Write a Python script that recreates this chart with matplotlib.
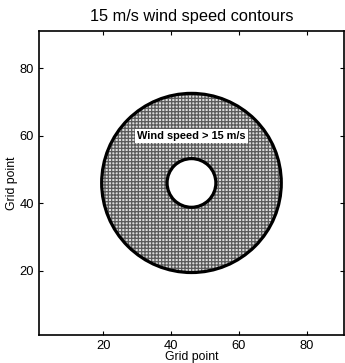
import matplotlib
matplotlib.use("Agg")
import matplotlib.pyplot as plt
from matplotlib.patches import Annulus, Circle

# Contour ring where wind speed exceeds 15 m/s
center = (46, 46)
outer_radius = 26.5
inner_radius = 7.2
label_text = "Wind speed > 15 m/s"
label_pos = (46, 60)
ticks = [20, 40, 60, 80]

plt.rcParams['font.family'] = ['Liberation Sans', 'DejaVu Sans']
plt.rcParams['hatch.linewidth'] = 0.9

fig = plt.figure(figsize=(3.45, 3.63), dpi=100)
ax = fig.add_axes([0.113, 0.077, 0.884, 0.838])

# Shaded region between the two contours
ring = Annulus(center, outer_radius, outer_radius - inner_radius,
               facecolor='#dcdcdc', edgecolor='#5a5a5a', linewidth=0,
               hatch='+++++')
ax.add_patch(ring)

# Contour lines
for r in (outer_radius, inner_radius):
    ax.add_patch(Circle(center, r, fill=False, edgecolor='black', linewidth=2.3))

ax.text(label_pos[0], label_pos[1], label_text, ha='center', va='center',
        fontsize=7.9, fontweight='bold',
        bbox=dict(facecolor='white', edgecolor='none', pad=1.5))

ax.set_xlim(1, 91)
ax.set_ylim(1, 91)
ax.set_xticks(ticks)
ax.set_yticks(ticks)
ax.tick_params(direction='in', length=3, labelsize=9.3, top=True, right=True)
for s in ax.spines.values():
    s.set_linewidth(1.2)

ax.set_title("15 m/s wind speed contours", fontsize=11.8, pad=7)
ax.set_xlabel("Grid point", fontsize=8.8, labelpad=-1)
ax.set_ylabel("Grid point", fontsize=8.8, labelpad=1)

fig.savefig("out.png", dpi=100)
